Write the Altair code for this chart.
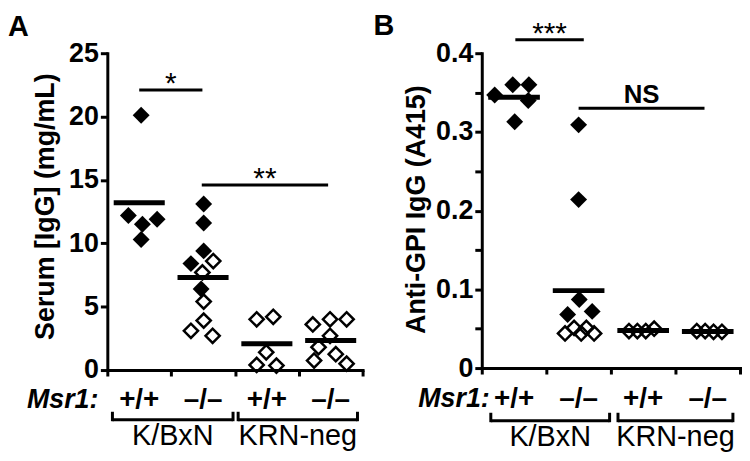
import altair as alt
import pandas as pd

FONT = "Liberation Sans"

# ---------------- Panel A: Serum IgG (mg/mL) ----------------
a_group = [0, 0, 0, 0, 0,
           1, 1, 1, 1, 1, 1, 1, 1, 1, 1, 1,
           2, 2, 2, 2, 2,
           3, 3, 3, 3, 3, 3, 3, 3]
a_value = [20.1, 12.2, 11.5, 11.9, 10.3,
           13.1, 11.6, 9.4, 8.4, 6.4, 8.6, 7.7, 5.4, 3.9, 3.1, 2.7,
           4.0, 4.2, 1.4, 0.4, 0.35,
           3.6, 4.0, 4.0, 2.7, 1.8, 1.25, 0.75, 0.5]
a_offset = [0.03, -0.17, 0.05, 0.28, 0.03,
            0.01, 0.01, 0.01, -0.19, -0.03, 0.16, -0.01, 0.01, 0.01, -0.19, 0.15,
            -0.16, 0.10, -0.01, -0.16, 0.15,
            -0.28, -0.01, 0.25, -0.01, -0.19, 0.08, -0.26, 0.25]
a_filled = [1, 1, 1, 1, 1,
            1, 1, 1, 1, 1, 0, 0, 0, 0, 0, 0,
            0, 0, 0, 0, 0,
            0, 0, 0, 0, 0, 0, 0, 0]
a_sig_x1 = [0.5, 1.48]
a_sig_x2 = [1.49, 3.46]
a_sig_y = [22.1, 14.6]
a_sig_label = ["*", "**"]
a_ticks = [0, 5, 10, 15, 20, 25]

# ---------------- Panel B: Anti-GPI IgG (A415) ----------------
b_group = [0, 0, 0, 0, 0,
           1, 1, 1, 1, 1, 1, 1, 1, 1, 1,
           2, 2, 2, 2,
           3, 3, 3, 3]
b_value = [0.347, 0.360, 0.360, 0.340, 0.313,
           0.309, 0.214, 0.087, 0.068, 0.072, 0.044, 0.051, 0.044, 0.051, 0.044,
           0.047, 0.047, 0.047, 0.050,
           0.047, 0.047, 0.046, 0.046]
b_offset = [-0.30, -0.02, 0.23, 0.22, 0.01,
            0.0, 0.0, 0.01, -0.17, 0.21, -0.21, -0.07, 0.04, 0.12, 0.24,
            -0.22, -0.09, 0.04, 0.17,
            -0.17, -0.04, 0.09, 0.22]
b_filled = [1, 1, 1, 1, 1,
            1, 1, 1, 1, 1, 0, 0, 0, 0, 0,
            0, 0, 0, 0,
            0, 0, 0, 0]
b_sig_x1 = [0.52, 1.50]
b_sig_x2 = [1.58, 3.45]
b_sig_y = [0.417, 0.330]
b_sig_label = ["***", "NS"]
b_ticks = [0, 0.05, 0.1, 0.15, 0.2, 0.25, 0.3, 0.35, 0.4]

# shared category annotations
genotypes = ["+/+", "\u2013/\u2013", "+/+", "\u2013/\u2013"]
strains = ["K/BxN", "KRN-neg"]
a_bracket_x1 = [0.08, 2.05]
a_bracket_x2 = [1.97, 3.92]
b_bracket_x1 = [0.14, 2.11]
b_bracket_x2 = [1.98, 3.89]


def panel(groups, values, offsets, filled, ymax, yticks, ytitle, label_expr,
          sig_x1, sig_x2, sig_y, sig_label, br_x1, br_x2,
          W, H, letter, letter_dx, letter_dy, title_x, title_y, msr_dx,
          row_dy, br_dy, strain_dy):
    df = pd.DataFrame({"g": groups, "v": values, "off": offsets, "filled": filled})
    xs = alt.Scale(domain=[0, 4], nice=False, zero=False)
    ys = alt.Scale(domain=[0, ymax], nice=False, zero=True)
    xaxis = alt.Axis(values=[0, 1, 2, 3, 4], labels=False, title=None, grid=False,
                     tickSize=6, tickWidth=3, domainWidth=3, domainColor="black",
                     tickColor="black", domainCap="square")
    yaxis_kw = dict(values=yticks, title=ytitle, grid=False,
                    tickSize=7, tickWidth=3, domainWidth=3, domainColor="black",
                    tickColor="black", domainCap="square",
                    labelFont=FONT, labelFontSize=27, labelFontWeight="bold",
                    labelColor="black", labelPadding=2,
                    titleFont=FONT, titleFontSize=27, titleFontWeight="bold",
                    titleColor="black", titleAngle=270, titleBaseline="alphabetic",
                    titleAlign="center", titleX=title_x, titleY=title_y)
    if label_expr:
        yaxis_kw["labelExpr"] = label_expr
    yaxis = alt.Axis(**yaxis_kw)

    X = lambda f: alt.X(f, type="quantitative", scale=xs, axis=xaxis)
    Y = lambda f: alt.Y(f, type="quantitative", scale=ys, axis=yaxis)

    base = alt.Chart(df).transform_calculate(x="datum.g + 0.5 + datum.off")
    filled_pts = base.transform_filter("datum.filled == 1").mark_point(
        shape="diamond", filled=True, color="black", size=290, opacity=1
    ).encode(x=X("x"), y=Y("v"))
    open_pts = base.transform_filter("datum.filled == 0").mark_point(
        shape="diamond", filled=False, color="black", strokeWidth=2.5, size=205, opacity=1
    ).encode(x=X("x"), y=Y("v"))
    means = alt.Chart(df).transform_aggregate(
        m="mean(v)", groupby=["g"]
    ).transform_calculate(
        x1="datum.g + 0.1", x2="datum.g + 0.9"
    ).mark_rule(strokeWidth=5, color="black").encode(
        x=X("x1"), x2="x2:Q", y=Y("m")
    )

    sig = pd.DataFrame({"x1": sig_x1, "x2": sig_x2, "y": sig_y, "t": sig_label})
    sig_rule = alt.Chart(sig).mark_rule(strokeWidth=3, color="black").encode(
        x=X("x1"), x2="x2:Q", y=Y("y"))
    sig_star = alt.Chart(sig).transform_filter("datum.t != 'NS'").transform_calculate(
        xm="(datum.x1 + datum.x2) / 2"
    ).mark_text(font=FONT, fontSize=30, color="black", baseline="alphabetic",
                dy=3).encode(x=X("xm"), y=Y("y"), text="t:N")
    sig_ns = alt.Chart(sig).transform_filter("datum.t == 'NS'").transform_calculate(
        xm="(datum.x1 + datum.x2) / 2"
    ).mark_text(font=FONT, fontSize=26, fontWeight="bold", color="black",
                baseline="alphabetic", dy=-5).encode(x=X("xm"), y=Y("y"), text="t:N")

    geno = pd.DataFrame({"g": [0, 1, 2, 3], "t": genotypes})
    geno_text = alt.Chart(geno).transform_calculate(xc="datum.g + 0.5").mark_text(
        font=FONT, fontSize=28, fontWeight="bold", color="black", baseline="middle"
    ).encode(x=X("xc"), y=alt.value(H + row_dy), text="t:N")
    msr = alt.Chart(pd.DataFrame({"t": ["Msr1:"]})).mark_text(
        font=FONT, fontSize=27, fontWeight="bold", fontStyle="italic",
        color="black", baseline="middle", align="right"
    ).encode(x=alt.value(msr_dx), y=alt.value(H + row_dy), text="t:N")

    br = pd.DataFrame({"x1": br_x1, "x2": br_x2, "t": strains})
    br_h = alt.Chart(br).mark_rule(strokeWidth=3, color="black").encode(
        x=X("x1"), x2="x2:Q", y=alt.value(H + br_dy))
    br_l = alt.Chart(br).mark_rule(strokeWidth=3, color="black").encode(
        x=X("x1"), y=alt.value(H + br_dy - 8), y2=alt.value(H + br_dy + 1.5))
    br_r = alt.Chart(br).mark_rule(strokeWidth=3, color="black").encode(
        x=X("x2"), y=alt.value(H + br_dy - 8), y2=alt.value(H + br_dy + 1.5))
    strain_text = alt.Chart(br).transform_calculate(
        xc="(datum.x1 + datum.x2) / 2"
    ).mark_text(font=FONT, fontSize=29, color="black", baseline="middle").encode(
        x=X("xc"), y=alt.value(H + strain_dy), text="t:N")

    let = alt.Chart(pd.DataFrame({"t": [letter]})).mark_text(
        font=FONT, fontSize=29, fontWeight="bold", color="black",
        align="left", baseline="alphabetic"
    ).encode(x=alt.value(letter_dx), y=alt.value(letter_dy), text="t:N")

    return alt.layer(
        filled_pts, open_pts, means, sig_rule, sig_star, sig_ns,
        geno_text, msr, br_h, br_l, br_r, strain_text, let
    ).properties(width=W, height=H)


label_b = ("(round(datum.value * 100) % 10 == 0) ? "
           "(datum.value == 0 ? '0' : format(datum.value, '.1f')) : ''")

pa = panel(a_group, a_value, a_offset, a_filled, 25, a_ticks,
           "Serum [IgG] (mg/mL)", None,
           a_sig_x1, a_sig_x2, a_sig_y, a_sig_label, a_bracket_x1, a_bracket_x2,
           W=257, H=319, letter="A", letter_dx=-100, letter_dy=-17,
           title_x=-54, title_y=154, msr_dx=-9,
           row_dy=30, br_dy=50, strain_dy=66)
pb = panel(b_group, b_value, b_offset, b_filled, 0.4, b_ticks,
           "Anti-GPI IgG (A415)", label_b,
           b_sig_x1, b_sig_x2, b_sig_y, b_sig_label, b_bracket_x1, b_bracket_x2,
           W=260, H=317, letter="B", letter_dx=-109, letter_dy=-18,
           title_x=-58, title_y=157, msr_dx=8,
           row_dy=31, br_dy=53, strain_dy=69)

chart = alt.hconcat(pa, pb, spacing=120, bounds="flush").configure_view(
    stroke=None
).properties(padding={"left": 0, "right": 0, "top": 3, "bottom": 0},
             background="white")

chart.save("out.html", embed_options={"renderer": "svg", "actions": False})
